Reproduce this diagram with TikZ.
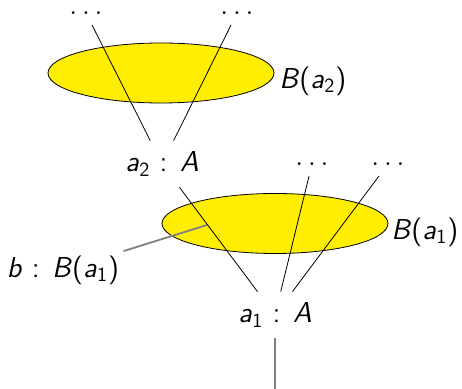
\documentclass[tikz,border=0pt]{standalone}
\usepackage{tikz}
\usetikzlibrary{shapes.geometric, positioning, calc}

\definecolor{blobyellow}{RGB}{255,238,0}
\newcommand{\iv}[1]{\textsf{\itshape #1}}
\newcommand{\ix}[2]{\iv{#1}\textsubscript{\textsf{#2}}}

\begin{document}
\begin{tikzpicture}[
  x=0.5pt, y=-0.5pt,
  blob/.style={draw, ellipse, fill=blobyellow, line width=0.4pt, minimum width=113pt, minimum height=30pt, inner sep=0pt},
  term/.style={font=\Large, minimum height=23pt, inner sep=2pt},
  more/.style={font=\Large, minimum height=11.5pt, inner sep=0pt},
  lbl/.style={font=\Large, anchor=west, inner sep=0pt},
  thin line/.style={draw, line width=0.4pt},
  pointer/.style={draw, gray, line width=0.9pt}
]
\useasboundingbox (0,0) rectangle (462,389);

% Fibres
\node[blob] (fib2) at (161,73) {};
\node[blob] (fib1) at (275,223.5) {};
\node[lbl] (lab2) at (279,81) {\iv{B}\textsf{(}\ix{a}{2}\textsf{)}};
\node[lbl] (lab1) at (391,232) {\iv{B}\textsf{(}\ix{a}{1}\textsf{)}};

% Terms
\node[term] (a2) at (162,164) {\ix{a}{2} \textsf{:} \iv{A}};
\node[term] (a1) at (275,315) {\ix{a}{1} \textsf{:} \iv{A}};
\node[term] (b) at (63,270) {\iv{b} \textsf{:} \iv{B}\textsf{(}\ix{a}{1}\textsf{)}};

% Further points
\node[more] (dots1) at (86,13) {$\ldots$};
\node[more] (dots2) at (237,13) {$\ldots$};
\node[more] (dots3) at (312,164) {$\ldots$};
\node[more] (dots4) at (388,164) {$\ldots$};

\coordinate (inb) at (207,225);
\coordinate (root) at (275,389);

% Paths
\path[thin line] (a2) -- (dots1);
\path[thin line] (a2) -- (dots2);
\path[thin line] (a1) -- (a2);
\path[thin line] (a1) -- (dots3);
\path[thin line] (a1) -- (dots4);
\path[pointer] (b) -- (inb);
\path[pointer] (a1) -- (root);

\end{tikzpicture}
\end{document}
